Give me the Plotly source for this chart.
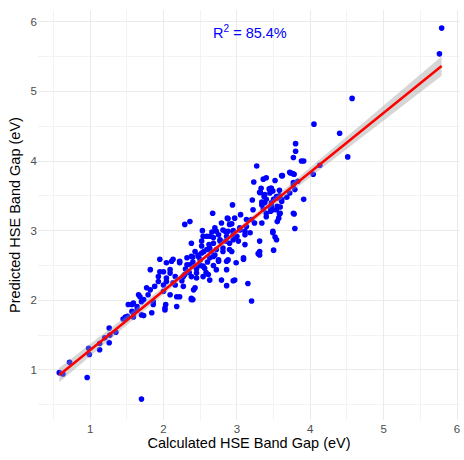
import numpy as np
import plotly.graph_objects as go

# Calculated vs predicted HSE band gap (eV)
x_calc = [5.79, 5.76, 4.57, 4.05, 4.40, 4.51, 4.13, 4.04,
          3.80, 3.80, 3.77, 3.88, 3.91, 3.62, 3.72, 3.76, 3.78, 3.77, 3.83, 3.79, 3.68, 3.91,
          3.52, 3.46, 3.49, 3.72, 3.58, 3.55, 3.50, 3.61, 3.55, 3.47, 3.59, 3.49, 3.46, 3.58, 3.78, 3.55, 3.79, 3.49, 3.52, 3.50,
          3.27, 3.36, 3.40, 3.23, 3.61, 3.73, 3.33, 3.44, 3.32, 3.37, 3.58, 3.34, 3.38, 3.21, 3.36, 3.46, 3.22, 2.94, 2.67, 2.87, 2.97, 3.05, 3.40, 3.59, 3.57,
          2.36, 2.29, 2.53, 2.66, 2.72, 2.54,
          3.77, 3.47, 3.38, 3.54, 3.40, 3.61, 3.34, 3.47, 3.54, 3.77, 3.40, 2.88, 3.13, 2.79, 2.90, 2.81, 2.88, 3.04, 3.13, 3.24,
          2.63, 2.75, 2.86, 2.95, 3.11, 3.18, 3.31, 2.38, 2.52, 2.68, 2.77, 2.90, 3.02, 3.11, 3.31, 3.31,
          2.43, 2.59, 2.72, 2.81, 2.93, 3.09, 2.99, 2.38, 2.50, 2.63, 2.75, 2.86, 1.95, 2.13, 2.22, 2.32, 2.43, 2.56, 2.72, 2.86,
          2.97, 2.79, 2.86, 1.82, 2.00, 2.09, 1.93, 2.04, 2.16, 2.29, 2.38, 2.45, 2.54, 2.63, 1.77, 1.88, 2.00, 2.13, 2.27, 2.41,
          2.18, 2.09, 2.38, 1.66, 1.79, 1.59, 1.70, 1.86, 2.02, 1.59, 1.70, 1.84, 3.20,
          3.31, 3.45, 3.20, 3.34, 2.93, 2.70, 2.84, 3.04, 3.11, 3.49, 2.59, 2.68, 2.77, 2.95, 3.54, 2.52, 2.63, 2.81, 2.90, 3.29,
          2.32, 2.47, 2.68, 2.75, 2.88, 3.09, 2.36, 2.54, 2.45, 2.61, 2.27, 2.95, 2.43, 3.15,
          2.04, 2.11, 2.22, 1.95, 2.09, 1.93, 2.04, 2.16, 2.00, 1.73, 1.52, 1.64, 1.86, 2.02, 1.57, 1.48, 1.59, 1.73, 2.18, 2.22, 2.38,
          0.58, 0.63, 0.72, 0.96, 0.99, 0.98, 1.13, 1.13, 1.20, 1.27, 1.26, 1.26, 1.35, 1.45, 1.51, 1.57, 1.64, 1.68, 1.82, 1.70, 2.03, 2.40,
          2.30, 2.40, 2.48, 2.55, 2.35, 2.60, 2.50, 2.45, 2.65, 2.70, 2.58, 2.25, 2.52, 2.62, 2.40, 2.85, 2.95, 3.00, 2.68]
y_pred = [5.91, 5.54, 4.90, 4.53, 4.40, 4.06, 3.94, 3.81,
          4.25, 4.14, 4.05, 4.00, 4.00, 3.79, 3.84, 3.82, 3.81, 3.69, 3.71, 3.59, 3.48, 3.45,
          3.72, 3.61, 3.57, 3.54, 3.50, 3.47, 3.45, 3.42, 3.35, 3.40, 3.34, 3.30, 3.28, 3.24, 3.24, 3.13, 3.03, 2.99, 2.91, 2.72,
          3.93, 3.74, 3.76, 3.70, 3.79, 3.83, 3.61, 3.60, 3.55, 3.49, 3.58, 3.41, 3.40, 3.44, 3.31, 3.33, 3.30, 3.37, 3.25, 3.18, 3.18, 3.23, 3.25, 3.25, 3.18,
          3.13, 3.09, 3.00, 2.98, 2.99, 2.92,
          3.66, 3.61, 3.52, 3.49, 3.45, 3.45, 3.37, 3.36, 3.30, 3.25, 3.20, 3.17, 3.16, 3.11, 3.09, 3.01, 2.99, 3.01, 3.06, 3.11,
          2.92, 2.94, 2.92, 2.94, 2.94, 2.97, 2.85, 2.82, 2.85, 2.82, 2.85, 2.82, 2.85, 2.80, 2.70, 2.65,
          2.70, 2.73, 2.73, 2.70, 2.70, 2.61, 2.54, 2.63, 2.58, 2.61, 2.58, 2.56, 2.59, 2.59, 2.54, 2.51, 2.49, 2.46, 2.44, 2.44,
          2.29, 2.29, 2.21, 2.44, 2.41, 2.44, 2.34, 2.32, 2.34, 2.37, 2.34, 2.32, 2.34, 2.29, 2.18, 2.20, 2.22, 2.25, 2.20, 2.15,
          2.05, 2.08, 2.03, 2.08, 2.08, 1.96, 1.98, 1.94, 1.89, 1.82, 1.79, 1.82, 1.99,
          3.55, 3.54, 3.16, 3.11, 3.10, 3.04, 2.99, 3.04, 2.99, 2.97, 2.92, 2.90, 2.87, 2.87, 2.87, 2.78, 2.75, 2.75, 2.73, 2.67,
          2.61, 2.65, 2.63, 2.56, 2.58, 2.59, 2.51, 2.49, 2.39, 2.37, 2.34, 2.28, 2.18, 2.24,
          2.54, 2.56, 2.56, 2.41, 2.39, 2.27, 2.27, 2.22, 2.13, 2.01, 1.94, 1.91, 1.98, 1.86, 1.84, 1.76, 1.76, 1.78, 1.91, 2.05, 2.01,
          0.96, 0.94, 1.11, 0.89, 1.22, 1.31, 1.29, 1.38, 1.46, 1.50, 1.60, 1.39, 1.54, 1.73, 1.77, 1.94, 1.86, 2.05, 2.15, 0.58, 1.94, 2.01,
          2.45, 2.55, 2.62, 2.70, 2.40, 2.55, 2.50, 2.45, 2.70, 2.65, 2.40, 2.28, 2.68, 2.80, 2.62, 2.85, 3.00, 2.92, 2.50]
r2_label = "R<sup>2</sup> = 85.4%"

x = np.array(x_calc)
y = np.array(y_pred)
n = len(x)
slope, intercept = np.polyfit(x, y, 1)
xs = np.linspace(x.min(), x.max(), 80)
yfit = intercept + slope * xs
resid = y - (intercept + slope * x)
s = np.sqrt(np.sum(resid ** 2) / (n - 2))
sxx = np.sum((x - x.mean()) ** 2)
se = s * np.sqrt(1.0 / n + (xs - x.mean()) ** 2 / sxx)
tval = 1.969
lo = yfit - tval * se
hi = yfit + tval * se

fig = go.Figure()
fig.add_trace(go.Scatter(x=x, y=y, mode="markers",
                         marker=dict(color="#0000FF", size=5.6, line=dict(width=0)),
                         hoverinfo="skip", showlegend=False))
fig.add_trace(go.Scatter(x=np.concatenate([xs, xs[::-1]]), y=np.concatenate([hi, lo[::-1]]),
                         fill="toself", fillcolor="rgba(153,153,153,0.4)",
                         line=dict(width=0), mode="lines", hoverinfo="skip", showlegend=False))
fig.add_trace(go.Scatter(x=xs, y=yfit, mode="lines", line=dict(color="#FF0000", width=2.5),
                         hoverinfo="skip", showlegend=False))

fig.add_annotation(x=3.18, y=5.86, text=r2_label, showarrow=False,
                   font=dict(family="Liberation Sans, Arial, sans-serif", size=14.5, color="#0000FF"))

axis_common = dict(showgrid=True, gridcolor="#EBEBEB", gridwidth=1, zeroline=False,
                   showline=False, ticks="", tickfont=dict(size=11.5, color="#4D4D4D"),
                   minor=dict(showgrid=True, gridcolor="#F3F3F3", gridwidth=0.6, dtick=0.5),
                   dtick=1)
fig.update_xaxes(range=[0.29, 6.04], tick0=0,
                 title=dict(text="Calculated HSE Band Gap (eV)", standoff=4,
                            font=dict(size=14.5, color="#000000")), **axis_common)
fig.update_yaxes(range=[0.28, 6.17], tick0=0,
                 title=dict(text="Predicted HSE Band Gap (eV)", standoff=6,
                            font=dict(size=14.5, color="#000000")), **axis_common)
fig.update_layout(width=464, height=460, margin=dict(l=38, r=4, t=10, b=40),
                  plot_bgcolor="white", paper_bgcolor="white",
                  font=dict(family="Liberation Sans, Arial, sans-serif"))
fig.write_html("out.html")
